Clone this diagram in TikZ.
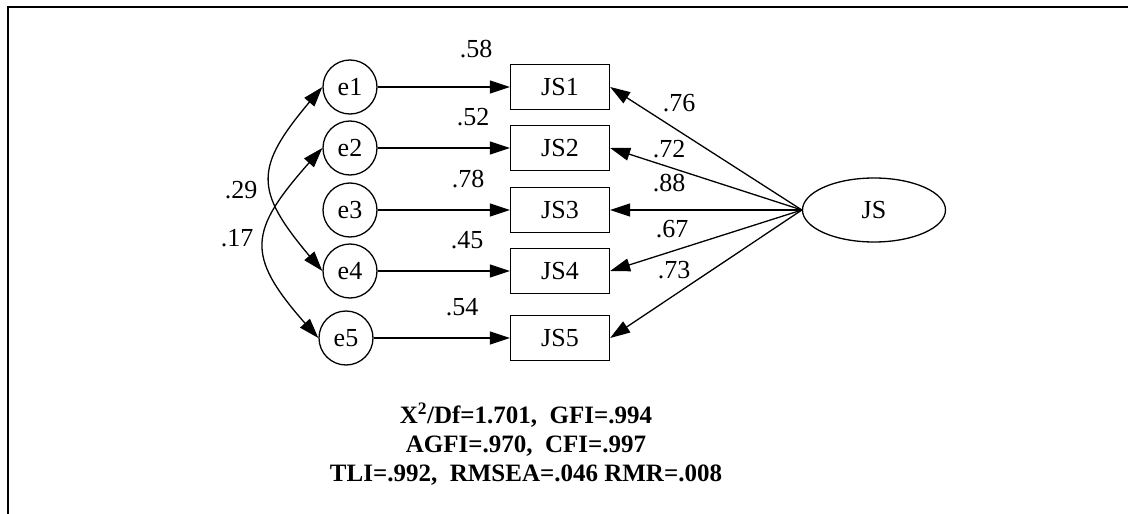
\documentclass[tikz,border=0pt]{standalone}
\usepackage{fontspec}
\setmainfont{Liberation Serif}
\usetikzlibrary{arrows.meta,shapes.geometric,bending}
\begin{document}
\begin{tikzpicture}[x=1pt,y=-1pt,
  lw/.style={line width=1.3pt},
  txt/.style={font=\fontsize{26}{30}\selectfont},
  err/.style={circle,draw,lw,txt,minimum size=54pt,inner sep=0pt},
  obs/.style={rectangle,draw,lw,txt,minimum width=99pt,minimum height=45pt,inner sep=0pt},
  lat/.style={ellipse,draw,lw,txt,minimum width=143pt,minimum height=64pt,inner sep=0pt},
  arr/.style={lw,-{Triangle[length=20pt,width=13pt]}},
  cov/.style={lw,{Triangle[length=20pt,width=13pt]}-{Triangle[length=20pt,width=13pt]}},
  lab/.style={txt,inner sep=0pt},
  fitidx/.style={font=\bfseries\fontsize{25}{29}\selectfont,inner sep=0pt,align=center}
]
\useasboundingbox (0,0) rectangle (1128,514);
\coordinate (ftl) at (8,7);
\coordinate (ftr) at (1128,7);
\coordinate (fbl) at (8,514);
\draw[line width=1.6pt] (ftr) -- (ftl) -- (fbl);

\node[err] (e1) at (350,87) {e1};
\node[err] (e2) at (350,148) {e2};
\node[err] (e3) at (350,210) {e3};
\node[err] (e4) at (350,271) {e4};
\node[err] (e5) at (346,338) {e5};

\node[obs] (JS1) at (560,87) {JS1};
\node[obs] (JS2) at (560,148) {JS2};
\node[obs] (JS3) at (560,210) {JS3};
\node[obs] (JS4) at (560,271) {JS4};
\node[obs] (JS5) at (560,338) {JS5};

\node[lat] (JS) at (874,210) {JS};

\foreach \i in {1,...,5} {
  \draw[arr] (e\i) -- (JS\i);
  \draw[arr] (JS.west) -- (JS\i.east);
}

\draw[cov] (e1.west) .. controls (250,170) and (250,188) .. (e4.west);
\draw[cov] (e2.west) .. controls (245,233) and (240,253) .. (e5.west);

\node[lab] (l1) at (476,49) {.58};
\node[lab] (l2) at (473,117) {.52};
\node[lab] (l3) at (468,179) {.78};
\node[lab] (l4) at (467,240) {.45};
\node[lab] (l5) at (462,307) {.54};

\node[lab] (r1) at (679,103) {.76};
\node[lab] (r2) at (669,149) {.72};
\node[lab] (r3) at (669,183) {.88};
\node[lab] (r4) at (672,229) {.67};
\node[lab] (r5) at (674,270) {.73};

\node[lab] (c1) at (241,190) {.29};
\node[lab] (c2) at (237,238) {.17};

\node[fitidx] (fit) at (526,444) {X\textsuperscript{2}/Df=1.701,\ \ GFI=.994\\AGFI=.970,\ \ CFI=.997\\TLI=.992,\ \ RMSEA=.046 RMR=.008};
\end{tikzpicture}
\end{document}
